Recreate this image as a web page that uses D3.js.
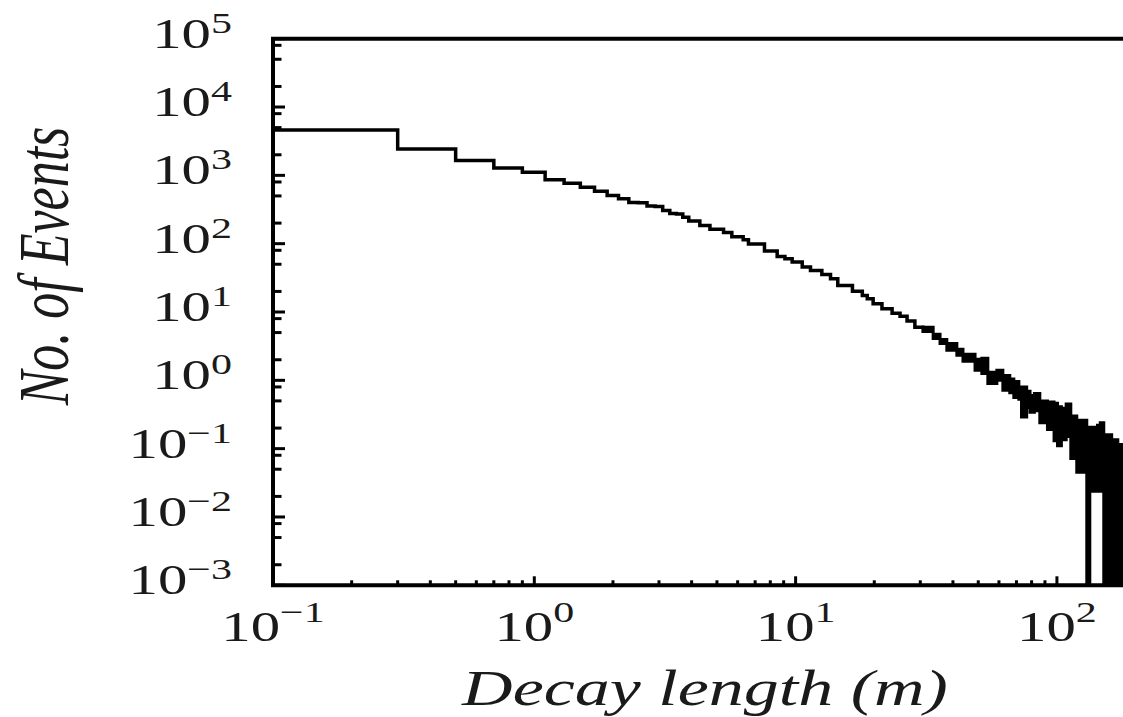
<!DOCTYPE html>
<html>
<head>
<meta charset="utf-8">
<script src="https://cdn.jsdelivr.net/npm/d3@7"></script>
<style>
  body { margin: 0; background: #fff; }
  text { font-family: "Liberation Serif", "Times New Roman", serif; fill: #1a1a1a; }
</style>
</head>
<body>
<div id="chart"></div>
<script>
////////////////////////////////////////////////////////////////////////
// Data

// histogram steps: left edge of each step (m) and number of events in it
const decayLen = [0.1, 0.3, 0.5, 0.7, 0.9, 1.1, 1.3, 1.5, 1.7, 1.9, 2.1, 2.3, 2.5, 2.7, 2.9,
  3.1, 3.3, 3.5, 3.7, 3.9, 4.3, 4.7, 5.3, 5.7, 6.3, 6.6, 7.6, 8.5, 9.1, 9.7, 10.6, 11.4,
  12.6, 13.6, 14.5, 16.5, 18.0, 18.8, 19.8, 21.4, 23.4, 25.1, 26.7, 28.6];
const events = [4620, 2440, 1645, 1285, 1110, 860, 767, 670, 586, 507, 453, 402, 398, 355, 350,
  305, 276, 272, 244, 215, 185, 163, 146, 126, 114, 99, 78, 65, 60, 54, 45.4, 40.6,
  35.5, 30.7, 24.5, 20.2, 17.5, 15.6, 13.2, 11.2, 9.6, 8.7, 7.4, 6.0];

// noisy tail: segment start (m) with the upper / lower envelope of the bin scatter
// (0 = empty bins, drawn down to the bottom of the axis)
const tailLen = [30.7, 33.6, 35.7, 37.9, 41.4, 43.7, 48.6, 51.6, 54.4, 58.9, 62.1, 66.0,
  68.4, 71.5, 73.2, 76.6, 78.9, 82.0, 86.0, 92.0, 97.5, 100.5, 104.0, 108.5, 113.0,
  119.1, 130.1, 133.6, 143.0, 146.5, 151.1, 155.0, 162.0, 171.0];
const tailHi = [5.96, 4.71, 3.97, 3.47, 2.84, 2.40, 2.03, 2.10, 1.31, 1.40, 1.18, 1.05,
  0.96, 0.71, 0.80, 0.69, 0.60, 0.64, 0.50, 0.48, 0.46, 0.41, 0.39, 0.45, 0.30,
  0.26, 0.206, 0.206, 0.22, 0.24, 0.147, 0.16, 0.135, 0.115];
const tailLo = [5.2, 4.11, 3.47, 2.75, 2.32, 1.90, 1.40, 1.26, 0.90, 1.0, 0.714, 0.66,
  0.56, 0.53, 0.29, 0.40, 0.34, 0.36, 0.24, 0.19, 0.13, 0.11, 0.135, 0.15, 0.072,
  0.045, 0, 0.0238, 0.0238, 0.0238, 0, 0, 0, 0];
const tailEnd = 179;

// axis decades
const xExps = [-1, 0, 1, 2];
const yExps = [-3, -2, -1, 0, 1, 2, 3, 4, 5];

////////////////////////////////////////////////////////////////////////
// Layout

const W = 1123, H = 717;
const plotLeft = 273, plotRight = 1125, plotTop = 38.7, plotBottom = 585.3;
const stretch = 1.4; // glyphs in the picture are wide

const svg = d3.select("#chart").append("svg")
  .attr("width", W).attr("height", H)
  .style("background", "#fff");

const x = d3.scaleLog().domain([0.1, tailEnd]).range([plotLeft, 1123]);
const y = d3.scaleLog().domain([1e-3, 1e5]).range([plotBottom, plotTop]);
const yMin = 1e-3;

// tick values: decades plus minor ticks
let xTicks = [];
xExps.forEach(e => d3.range(1, 10).forEach(k => {
  let v = k * Math.pow(10, e);
  if (v < tailEnd) xTicks.push({ v: v, major: k === 1 });
}));
let yTicks = [];
yExps.forEach(e => [1, 2, 5, 8].forEach(k => {
  if (e < 5 || k === 1) yTicks.push({ v: k * Math.pow(10, e), major: k === 1 });
}));

// ticks point into the plot
svg.append("g").selectAll("line")
  .data(xTicks)
  .enter()
  .append("line")
  .attr("x1", d => x(d.v)).attr("x2", d => x(d.v))
  .attr("y1", plotBottom)
  .attr("y2", d => plotBottom - (d.major ? 9 : 5))
  .attr("stroke", "#000")
  .attr("stroke-width", 3);

svg.append("g").selectAll("line")
  .data(yTicks)
  .enter()
  .append("line")
  .attr("y1", d => y(d.v)).attr("y2", d => y(d.v))
  .attr("x1", plotLeft)
  .attr("x2", d => plotLeft + (d.major ? 12 : 8.5))
  .attr("stroke", "#000")
  .attr("stroke-width", 3);

////////////////////////////////////////////////////////////////////////
// Histogram

let clampY = v => y(Math.max(v, yMin));

let pts = decayLen.map((d, i) => [d, events[i]]);
pts.push([tailLen[0], tailHi[0]]);

svg.append("path")
  .attr("d", d3.line().x(d => x(d[0])).y(d => clampY(d[1])).curve(d3.curveStepAfter)(pts))
  .attr("fill", "none")
  .attr("stroke", "#000")
  .attr("stroke-width", 3.5);

let tail = tailLen.map((d, i) => ({ len: d, hi: tailHi[i], lo: tailLo[i] }));
tail.push({ len: tailEnd, hi: tailHi[tailHi.length - 1], lo: tailLo[tailLo.length - 1] });

svg.append("path")
  .attr("d", d3.area()
    .x(d => x(d.len))
    .y0(d => clampY(d.lo))
    .y1(d => clampY(d.hi))
    .curve(d3.curveStepAfter)(tail))
  .attr("fill", "#000")
  .attr("stroke", "#000")
  .attr("stroke-width", 3);

////////////////////////////////////////////////////////////////////////
// Frame

svg.append("path")
  .attr("d", "M" + plotRight + "," + plotTop + "H" + plotLeft + "V" + plotBottom + "H" + plotRight)
  .attr("fill", "none")
  .attr("stroke", "#000")
  .attr("stroke-width", 4);

////////////////////////////////////////////////////////////////////////
// Labels

function powLabel(e, px, py, anchor, supDy) {
  let t = svg.append("text")
    .attr("transform", "translate(" + px + "," + py + ") scale(" + stretch + ",1)")
    .attr("text-anchor", anchor)
    .attr("font-size", 42);
  t.append("tspan").text("10");
  t.append("tspan")
    .attr("dy", supDy)
    .attr("font-size", 30)
    .text(e < 0 ? "\u2212" + (-e) : String(e));
}

xExps.forEach(e => powLabel(e, x(Math.pow(10, e)), 641, "middle", -19));
yExps.forEach(e => powLabel(e, 232, y(Math.pow(10, e)) + 9, "end", -15));

svg.append("text")
  .attr("transform", "translate(705,705) scale(" + stretch + ",1)")
  .attr("text-anchor", "middle")
  .attr("font-size", 50)
  .attr("font-style", "italic")
  .text("Decay length (m)");

svg.append("text")
  .attr("transform", "translate(68,266) scale(" + stretch + ",1) rotate(-90)")
  .attr("text-anchor", "middle")
  .attr("font-size", 52)
  .attr("font-style", "italic")
  .text("No. of Events");
</script>
</body>
</html>
